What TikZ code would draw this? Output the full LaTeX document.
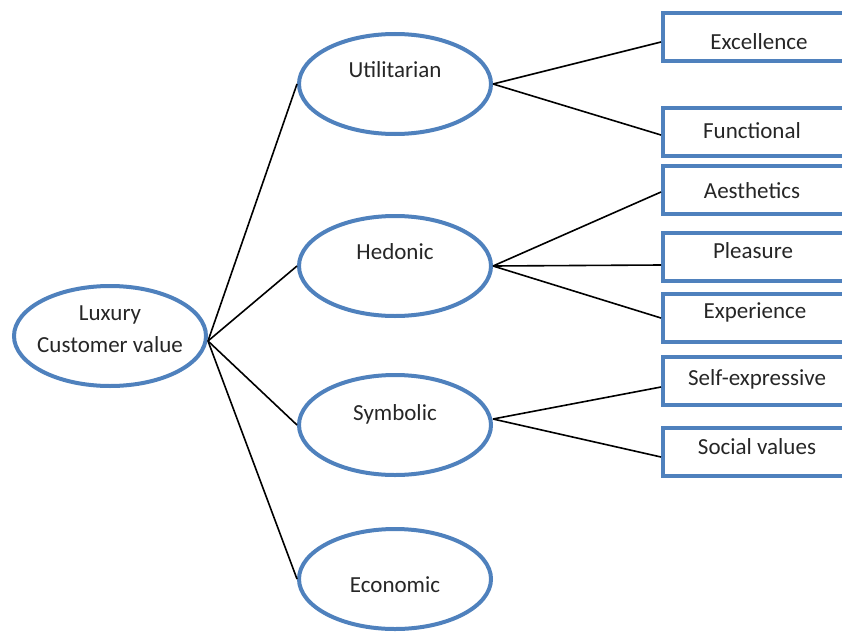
\documentclass[tikz,border=0pt]{standalone}
\usepackage{fontspec}
\setmainfont{Carlito}
\usetikzlibrary{shapes}
\definecolor{officeblue}{HTML}{4F81BD}
\tikzstyle{value}=[ellipse,draw=officeblue,line width=4pt,minimum width=192pt,minimum height=100pt,inner sep=0pt]
\tikzstyle{facet}=[rectangle,draw=officeblue,line width=4pt,minimum width=190pt,minimum height=48pt,inner sep=0pt]
\tikzstyle{link}=[black,line width=1.6pt]

\begin{document}
\begin{tikzpicture}[x=1pt,y=-1pt,font=\fontsize{23}{32}\selectfont,text=black!85]
    \useasboundingbox (0,0) rectangle (842,634);
    \node[value,label={[align=center,yshift=7pt]center:Luxury\\Customer value}] (lux) at (110,336) {};
%   the four kinds of value
    \node[value,label={[yshift=14pt]center:Utilitarian}] (util) at (395,84)  {};
    \node[value,label={[yshift=14pt]center:Hedonic}]     (hed)  at (395,266) {};
    \node[value,label={[yshift=11pt]center:Symbolic}]    (sym)  at (395,425) {};
    \node[value,label={[yshift=-6pt]center:Economic}]    (eco)  at (395,579) {};
    \draw[link] ([yshift=-5pt]lux.east) -- (util.west);
    \draw[link] ([yshift=-5pt]lux.east) -- (hed.west);
    \draw[link] ([yshift=-5pt]lux.east) -- (sym.west);
    \draw[link] ([yshift=-5pt]lux.east) -- (eco.west);
%   the facets, cut off at the right
    \node[facet,label={[xshift=1pt,yshift=-5pt]center:Excellence}] (exc) at (758,37)  {};
    \node[facet,label={[xshift=-6pt,yshift=1pt]center:Functional}] (fun) at (758,132) {};
    \node[facet,label={[xshift=-6pt,yshift=-1pt]center:Aesthetics}] (aes) at (758,190) {};
    \node[facet,label={[xshift=-5pt,yshift=6pt]center:Pleasure}]    (ple) at (758,257) {};
    \node[facet,label={[xshift=-3pt,yshift=6pt]center:Experience}]  (exp) at (758,318) {};
    \node[facet,label={[xshift=-1pt,yshift=2pt]center:Self-expressive}] (sel) at (758,381) {};
    \node[facet,label={[xshift=-1pt,yshift=5pt]center:Social values}]  (soc) at (758,452) {};
    \draw[link] (util.east) -- ([yshift=-5pt]exc.west);
    \draw[link] (util.east) -- ([yshift=-3pt]fun.west);
    \draw[link] (hed.east) -- ([yshift=-2pt]aes.west);
    \draw[link] (hed.east) -- ([yshift=-8pt]ple.west);
    \draw[link] (hed.east) -- (exp.west);
    \draw[link] ([yshift=6pt]sym.east) -- ([yshift=-6pt]sel.west);
    \draw[link] ([yshift=6pt]sym.east) -- ([yshift=-5pt]soc.west);
\end{tikzpicture}
\end{document}
